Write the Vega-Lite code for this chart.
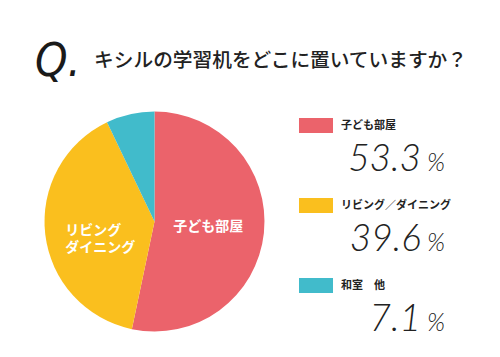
{
  "$schema": "https://vega.github.io/schema/vega-lite/v6.json",
  "background": "white",
  "padding": {"left": 35, "top": 38, "right": 5, "bottom": 5},
  "bounds": "flush",
  "config": {"view": {"stroke": null}},
  "datasets": {
    "header": [
      {"part": "Q", "text": "Q."},
      {"part": "question", "text": "キシルの学習机をどこに置いていますか？"}
    ],
    "shares": [
      {"category": "子ども部屋", "value": 53.3, "pieLabel": "子ども部屋"},
      {"category": "リビング／ダイニング", "value": 39.6, "pieLabel": "リビング\nダイニング"},
      {"category": "和室　他", "value": 7.1, "pieLabel": ""}
    ]
  },
  "spacing": 26,
  "vconcat": [
    {
      "width": 432,
      "height": 45,
      "data": {"name": "header"},
      "layer": [
        {
          "transform": [{"filter": "datum.part === 'Q'"}],
          "mark": {"type": "text", "align": "left", "baseline": "middle", "dy": -1, "font": "DejaVu Sans Condensed, Liberation Sans Narrow, Roboto Condensed, Roboto", "fontStyle": "italic", "fontSize": 46, "color": "#1a1a1a"},
          "encoding": {
            "x": {"field": "part", "type": "nominal", "scale": {"type": "point", "domain": ["Q", "question"], "padding": 0}, "axis": null},
            "text": {"field": "text"}
          }
        },
        {
          "transform": [{"filter": "datum.part === 'question'"}],
          "mark": {"type": "text", "align": "right", "baseline": "middle", "dy": -2, "font": "Noto Sans CJK JP", "fontWeight": 500, "fontSize": 19.7, "color": "#222222"},
          "encoding": {
            "x": {"field": "part", "type": "nominal", "scale": {"type": "point", "domain": ["Q", "question"], "padding": 0}, "axis": null},
            "text": {"field": "text"}
          }
        }
      ]
    },
    {
      "spacing": 24,
      "hconcat": [
        {
          "width": 239,
          "height": 221,
          "data": {"name": "shares"},
          "encoding": {
            "theta": {"field": "value", "type": "quantitative", "stack": true},
            "order": {"field": "value", "type": "quantitative", "sort": "descending"}
          },
          "layer": [
            {
              "mark": {"type": "arc", "outerRadius": 110},
              "encoding": {
                "color": {"field": "category", "type": "nominal", "legend": null,
                  "scale": {"domain": ["子ども部屋", "リビング／ダイニング", "和室　他"], "range": ["#EB636B", "#FABF1E", "#41BBCB"]}}
              }
            },
            {
              "mark": {"type": "text", "radius": 54, "align": "center", "baseline": "middle", "font": "Noto Sans CJK JP", "fontWeight": "bold", "fontSize": 14, "color": "white"},
              "encoding": {
                "text": {"condition": {"test": "datum.category === '子ども部屋'", "field": "pieLabel"}, "value": ""}
              }
            },
            {
              "mark": {"type": "text", "radius": 90, "align": "left", "baseline": "middle", "dy": -1, "lineBreak": "\n", "lineHeight": 17, "font": "Noto Sans CJK JP", "fontWeight": "bold", "fontSize": 14, "color": "white"},
              "encoding": {
                "text": {"condition": {"test": "datum.category === 'リビング／ダイニング'", "field": "pieLabel"}, "value": ""}
              }
            }
          ]
        },
        {
          "width": 160,
          "height": 240,
          "data": {"name": "shares"},
          "encoding": {
            "y": {"field": "category", "type": "nominal", "axis": null,
              "scale": {"domain": ["子ども部屋", "リビング／ダイニング", "和室　他"], "paddingInner": 0, "paddingOuter": 0}}
          },
          "layer": [
            {
              "mark": {"type": "point", "filled": true, "opacity": 1, "size": 1156, "shape": "M-4.706,-1.94L-2.706,-1.94L-2.706,-1.06L-4.706,-1.06Z"},
              "encoding": {
                "color": {"field": "category", "type": "nominal", "legend": null,
                  "scale": {"domain": ["子ども部屋", "リビング／ダイニング", "和室　他"], "range": ["#EC6570", "#FBBF1E", "#2ABBBD"]}}
              }
            },
            {
              "mark": {"type": "text", "align": "left", "baseline": "middle", "dx": -38, "dy": -25, "font": "Noto Sans CJK JP", "fontWeight": "bold", "fontSize": 11, "color": "#222222"},
              "encoding": {"text": {"field": "category"}}
            },
            {
              "mark": {"type": "text", "align": "right", "baseline": "alphabetic", "dx": 42, "dy": 20, "font": "Lato", "fontWeight": 300, "fontStyle": "italic", "fontSize": 37, "color": "#222222"},
              "encoding": {"text": {"field": "value", "type": "quantitative", "format": ".1f"}}
            },
            {
              "mark": {"type": "text", "align": "left", "baseline": "alphabetic", "dx": 48, "dy": 20, "font": "Lato", "fontWeight": 300, "fontStyle": "italic", "fontSize": 25, "color": "#222222", "text": "%"},
              "encoding": {}
            }
          ]
        }
      ]
    }
  ]
}
